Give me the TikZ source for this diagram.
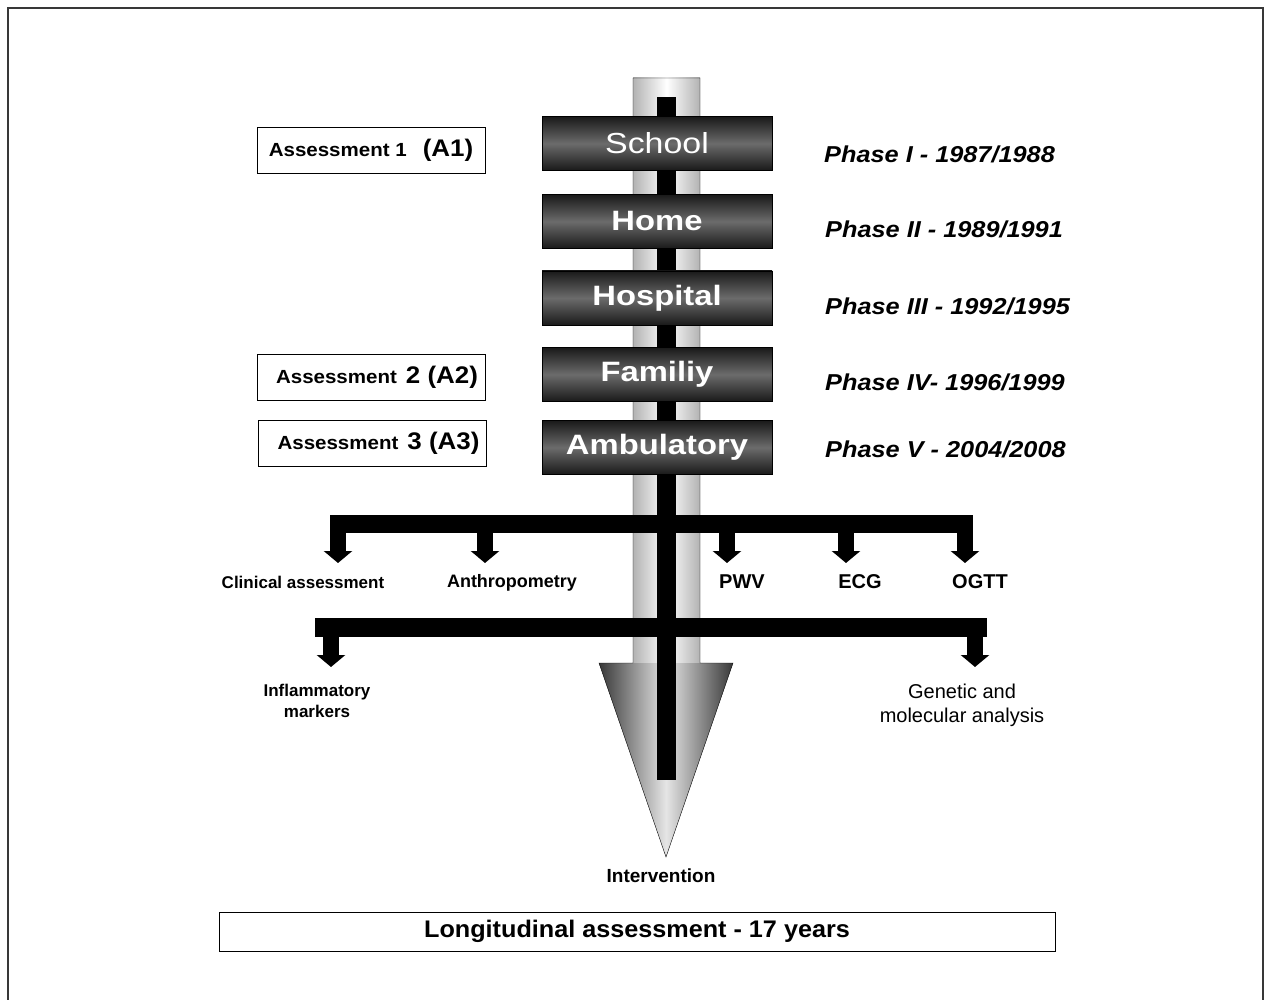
\documentclass[tikz,border=0pt]{standalone}
\usepackage{fontspec}
\setmainfont{Liberation Sans}
\usepackage{tikz}
\usetikzlibrary{arrows.meta, positioning}
\usepackage{xcolor}
\definecolor{FrameGray}{gray}{0.22}
\definecolor{ShaftGray}{gray}{0.70}
\definecolor{HeadDark}{gray}{0.22}
\definecolor{HeadLite}{gray}{0.90}
\definecolor{BoxDark}{gray}{0.10}
\definecolor{BoxMid}{gray}{0.42}
\newcommand{\widen}[1]{\addfontfeature{FakeStretch=#1}}
\tikzset{%
  phase_block/.style={%
    rectangle,%
    draw=black,%
    top color=BoxDark,%
    bottom color=BoxDark,%
    middle color=BoxMid,%
    minimum width=230pt,%
    minimum height=54pt,%
    inner sep=0pt,%
    text=white,%
    font={\fontsize{28}{30}\selectfont\bfseries\widen{1.17}},%
    align=center%
  },
  assess_block/.style={%
    rectangle,%
    draw=black,%
    thick,%
    minimum width=228pt,%
    minimum height=46pt,%
    inner sep=0pt,%
    font={\fontsize{19}{22}\selectfont\bfseries\widen{1.08}},%
    align=center%
  },
  phase_annotate/.style={%
    anchor=base west,%
    inner sep=0pt,%
    font={\fontsize{23}{26}\selectfont\bfseries\itshape\widen{1.1}},%
  },
  outcome_annotate/.style={%
    anchor=base,%
    inner sep=0pt,%
    font={\fontsize{17}{21}\selectfont\bfseries},%
  },
  branch_bar/.style={%
    line width=18pt,%
    color=black,%
  },
  branch_arrow/.style={%
    line width=16pt,%
    color=black,%
    -{Triangle[length=12pt 0 0, width=28pt 0 0]}%
  },
  outline/.style={%
    draw=black,%
    line join=miter,%
    thin,%
  },
}

\begin{document}
\begin{tikzpicture}[x=1pt, y=-1pt]

    \useasboundingbox (0,0) rectangle (1266,1000);
    \draw [FrameGray, line width=2pt]
      (8,1000) -- (8,8) -- (1263,8) -- (1263,1000);

    % big downward arrow
    \shade [left color=ShaftGray, right color=ShaftGray, middle color=white]
      (633,78) rectangle (700,663);
    \shade [left color=HeadDark, right color=HeadDark, middle color=HeadLite]
      (599,663) -- (733,663) -- (666,857) -- cycle;
    \draw [outline]
      (633,663) -- (633,78) -- (700,78) -- (700,663)
      -- (733,663) -- (666,857) -- (599,663) -- cycle;
    \fill [black] (657,97) rectangle (676,780);

    \node [phase_block] (School) at (657,143.5) {%
      \mdseries\fontsize{29}{32}\selectfont\widen{1.17}School%
    };
    \node [phase_block] (Home) at (657,221.5) {Home};
    \node [phase_block] (Hospital) at (657,298) {Hospital};
    \node [phase_block] (Familiy) at (657,374.5) {Familiy};
    \node [phase_block] (Ambulatory) at (657,447.5) {Ambulatory};

    \node [phase_annotate] (PhaseI) at (824,163) {Phase I - 1987/1988};
    \node [phase_annotate] (PhaseII) at (825,238) {Phase II - 1989/1991};
    \node [phase_annotate] (PhaseIII) at (825,315) {Phase III - 1992/1995};
    \node [phase_annotate] (PhaseIV) at (825,390) {Phase IV- 1996/1999};
    \node [phase_annotate] (PhaseV) at (825,457) {Phase V - 2004/2008};

    \node [assess_block] (A1) at (371,150) {%
      Assessment 1\hspace{16pt}{\fontsize{24}{26}\selectfont (A1)}%
    };
    \node [assess_block] (A2) at (371,377) {%
      \hspace*{12pt}Assessment\hspace{9pt}{\fontsize{24}{26}\selectfont 2 (A2)}%
    };
    \node [assess_block] (A3) at (372.5,443.5) {%
      \hspace*{12pt}Assessment\hspace{9pt}{\fontsize{24}{26}\selectfont 3 (A3)}%
    };

    % first branch
    \coordinate (upper_west) at (330,524);
    \coordinate (upper_east) at (973,524);
    \coordinate (clinical_tip) at (338,563);
    \coordinate (anthro_tip) at (485,563);
    \coordinate (pwv_tip) at (727,563);
    \coordinate (ecg_tip) at (846,563);
    \coordinate (ogtt_tip) at (965,563);

    \draw [branch_bar] (upper_west) -- (upper_east);
    \draw [branch_arrow] (clinical_tip |- upper_west) -- (clinical_tip);
    \draw [branch_arrow] (anthro_tip |- upper_west) -- (anthro_tip);
    \draw [branch_arrow] (pwv_tip |- upper_west) -- (pwv_tip);
    \draw [branch_arrow] (ecg_tip |- upper_west) -- (ecg_tip);
    \draw [branch_arrow] (ogtt_tip |- upper_west) -- (ogtt_tip);

    \node [outcome_annotate] (Clinical) at (303,588) {Clinical assessment};
    \node [outcome_annotate, font={\fontsize{18}{21}\selectfont\bfseries}]
      (Anthropometry) at (512,587) {Anthropometry};
    \node [outcome_annotate, font={\fontsize{20}{22}\selectfont\bfseries}]
      (PWV) at (742,588) {PWV};
    \node [outcome_annotate, font={\fontsize{20}{22}\selectfont\bfseries}]
      (ECG) at (860,588) {ECG};
    \node [outcome_annotate, font={\fontsize{20}{22}\selectfont\bfseries}]
      (OGTT) at (980,588) {OGTT};

    % second branch
    \coordinate (lower_west) at (315,627.5);
    \coordinate (lower_east) at (987,627.5);
    \coordinate (inflam_tip) at (331,667);
    \coordinate (genetic_tip) at (975,667);

    \draw [branch_bar, line width=19pt] (lower_west) -- (lower_east);
    \draw [branch_arrow] (inflam_tip |- lower_west) -- (inflam_tip);
    \draw [branch_arrow] (genetic_tip |- lower_west) -- (genetic_tip);

    \node [outcome_annotate, anchor=center, align=center] (Inflammatory)
      at (317,701) {Inflammatory\\markers};
    \node [outcome_annotate, anchor=center, align=center,
      font={\fontsize{20}{24}\selectfont}] (Genetic)
      at (962,705) {Genetic and\\molecular analysis};

    \node [outcome_annotate, font={\fontsize{19}{22}\selectfont\bfseries}]
      (Intervention) at (661,882) {Intervention};

    \node [assess_block, minimum width=836pt, minimum height=39pt,
      font={\fontsize{24}{26}\selectfont\bfseries\widen{1.05}}]
      (Longitudinal) at (637,931.5) {Longitudinal assessment - 17 years};
  \end{tikzpicture}
\end{document}
